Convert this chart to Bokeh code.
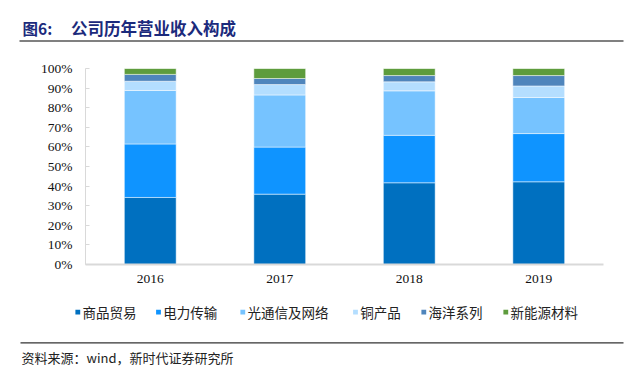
from bokeh.plotting import figure
from bokeh.models import Range1d, FactorRange, FixedTicker, PrintfTickFormatter, ColumnDataSource
from bokeh.core.properties import value
from bokeh.embed import file_html
from bokeh.resources import INLINE

# ---- data ----
years = ["2016", "2017", "2018", "2019"]
series = ["商品贸易", "电力传输", "光通信及网络", "铜产品", "海洋系列", "新能源材料"]
trade = [34.2, 35.9, 41.7, 42.2]
power = [27.3, 24.0, 24.2, 24.6]
optical = [27.3, 26.6, 22.7, 18.4]
copper = [4.7, 5.3, 4.6, 5.9]
marine = [3.5, 3.1, 3.2, 5.3]
newenergy = [3.0, 5.1, 3.6, 3.6]
y_ticks = [0, 10, 20, 30, 40, 50, 60, 70, 80, 90, 100]
title_num = "图6:"
title_text = "公司历年营业收入构成"
source_text = "资料来源：wind，新时代证券研究所"

colors = ["#0070C0", "#0F94FF", "#76C3FF", "#B4DEFF", "#4F85BC", "#5E9C3D"]
W = 640
CJK = "Noto Sans CJK SC"
SERIF = "Liberation Serif"


def blank(h):
    f = figure(width=W, height=h, x_range=Range1d(0, W), y_range=Range1d(h, 0),
               toolbar_location=None, output_backend="svg", min_border=0,
               x_axis_type=None, y_axis_type=None)
    f.outline_line_color = None
    f.grid.visible = False
    f.background_fill_color = "white"
    f.border_fill_color = "white"
    return f


# ---- header ----
header = blank(53)
header.text(x=[22], y=[27.5], text=[title_num], text_font=value(CJK), text_font_style="bold",
            text_font_size="15.5px", text_color="#1B2A7C", text_baseline="middle", text_align="left")
header.text(x=[70.5], y=[27.5], text=[title_text], text_font=value(CJK), text_font_style="bold",
            text_font_size="16.5px", text_color="#1B2A7C", text_baseline="middle", text_align="left")
header.segment(x0=[19], y0=[40.5], x1=[623], y1=[40.5], line_color="#808080", line_width=2)

# ---- main chart ----
data = {"year": years}
for name, vals in zip(series, [trade, power, optical, copper, marine, newenergy]):
    data[name] = vals
src = ColumnDataSource(data)

p = figure(width=W, height=243, x_range=FactorRange(*years), y_range=Range1d(0, 100),
           toolbar_location=None, output_backend="svg",
           min_border_left=85, min_border_right=37, min_border_top=15, min_border_bottom=32)
p.vbar_stack(series, x="year", width=0.4, source=src, color=colors,
             line_color="white", line_width=0.8, line_alpha=0.6)
p.outline_line_color = None
p.grid.visible = False
p.background_fill_color = "white"
p.border_fill_color = "white"

p.yaxis.ticker = FixedTicker(ticks=y_ticks)
p.yaxis.formatter = PrintfTickFormatter(format="%d%%")
p.yaxis.axis_line_color = "#D9D9D9"
p.yaxis.major_tick_line_color = "#D9D9D9"
p.yaxis.major_tick_in = 4
p.yaxis.major_tick_out = 0
p.yaxis.minor_tick_line_color = None
p.yaxis.major_label_standoff = 13
p.yaxis.major_label_text_font = SERIF
p.yaxis.major_label_text_font_size = "13.5px"
p.yaxis.major_label_text_color = "#111111"

p.xaxis.axis_line_color = "#D9D9D9"
p.xaxis.axis_line_width = 2
p.xaxis.major_tick_line_color = None
p.xaxis.major_tick_in = 0
p.xaxis.major_tick_out = 0
p.xaxis.major_label_standoff = 10
p.xaxis.major_label_text_font = SERIF
p.xaxis.major_label_text_font_size = "13.5px"
p.xaxis.major_label_text_color = "#111111"

# ---- footer: legend + source ----
footer = blank(73)
sq_left = [75, 155.7, 240, 352.7, 421, 503]
ly = 15.7
footer.rect(x=[v + 2.3 for v in sq_left], y=[ly] * 6, width=4.8, height=4.8,
            color=colors, line_color=None)
footer.text(x=[v + 7 for v in sq_left], y=[ly] * 6, text=series, text_font=value(CJK),
            text_font_size="13.5px", text_color="#222222", text_baseline="middle", text_align="left")
footer.segment(x0=[20], y0=[46.3], x1=[623], y1=[46.3], line_color="#333333", line_width=1.2)
footer.text(x=[21], y=[60.7], text=[source_text], text_font=value(CJK),
            text_font_size="13px", text_color="#222222", text_baseline="middle", text_align="left")

open("out.html", "w").write(file_html([header, p, footer], INLINE))
